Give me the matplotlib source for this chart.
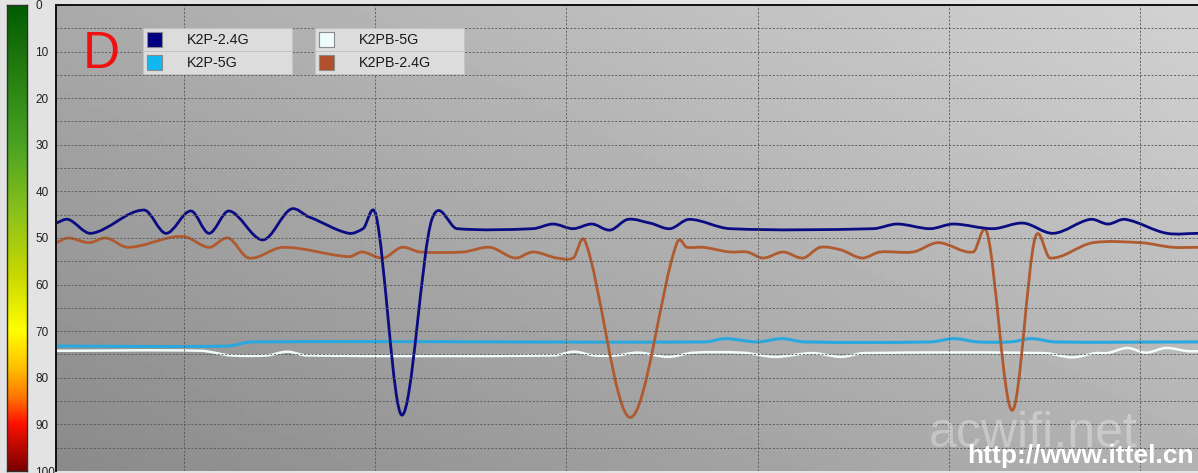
import numpy as np
import matplotlib
matplotlib.use("Agg")
import matplotlib.pyplot as plt
from matplotlib.path import Path
from matplotlib.patches import PathPatch, Rectangle
from matplotlib.colors import LinearSegmentedColormap

plt.rcParams['font.family'] = ['Liberation Sans', 'DejaVu Sans']

W, H = 1198, 473

# signal readings (0 = best, 100 = worst) against time in seconds
series_names = ["K2P-2.4G", "K2P-5G", "K2PB-5G", "K2PB-2.4G"]
series_colors = ["#0b0b82", "#2aa8de", "#f2fcfc", "#b05a30"]
legend_colors = ["#000080", "#10b8f0", "#eefcfc", "#b0502c"]

k2p_24_t = [19.9, 23.7, 30.9, 47.5, 54.4, 62.2, 67.9, 74.2, 84.8, 93.6, 99.3,
            111.8, 116.2, 120.3, 128.4, 137.8, 145.7, 169.5, 175.8, 182.1,
            188.0, 193.7, 199.3, 206.2, 212.5, 218.5, 231.3, 276.2, 283.7,
            294.1, 301.3, 313.8, 323.3, 332.7, 344.3, 349.9, 355.2, 368.4, 378.1]
k2p_24_v = [46.8, 46.0, 49.0, 44.0, 49.0, 44.2, 49.0, 44.2, 50.4, 43.8, 45.5,
            49.0, 48.0, 45.2, 88.0, 46.0, 48.0, 48.0, 47.0, 48.0,
            47.0, 48.3, 46.0, 46.8, 48.0, 46.0, 48.0, 48.0, 47.0,
            48.0, 47.0, 48.0, 46.8, 49.0, 46.0, 47.0, 46.0, 49.0, 49.0]

k2p_5_t = [19.9, 73.5, 81.4, 223.5, 229.8, 239.8, 247.6, 254.6, 294.1,
           301.6, 309.1, 319.2, 325.8, 333.3, 378.1]
k2p_5_v = [73.2, 73.2, 72.3, 72.3, 71.6, 72.3, 71.6, 72.3, 72.3,
           71.6, 72.3, 72.3, 71.6, 72.3, 72.3]

k2pb_5_t = [19.9, 65.4, 74.8, 86.1, 92.4, 98.6, 176.1, 182.4, 188.7, 195.6,
            202.5, 211.9, 220.0, 235.1, 245.5, 257.1, 266.2, 273.4, 329.9,
            338.6, 346.1, 349.6, 355.9, 361.8, 368.1, 375.0, 378.1]
k2pb_5_v = [74.2, 74.2, 75.2, 75.2, 74.4, 75.2, 75.2, 74.4, 75.2, 75.2,
            74.6, 75.5, 74.6, 74.6, 75.5, 74.7, 75.5, 74.7, 74.7,
            75.6, 74.7, 74.7, 73.6, 74.6, 73.6, 74.3, 74.3]

k2pb_24_t = [19.9, 23.7, 30.3, 35.6, 42.5, 56.6, 60.7, 67.9, 73.9, 80.4, 91.1,
             111.8, 115.9, 122.5, 128.4, 134.1, 147.6, 156.0, 163.9, 169.5,
             177.1, 182.1, 185.8, 200.0, 214.7, 217.8, 222.9, 231.3, 236.7,
             241.7, 248.0, 254.2, 259.6, 265.8, 272.7, 278.4, 288.7, 296.6,
             307.6, 312.0, 319.8, 327.0, 331.7, 345.2, 360.0, 370.3, 378.1]
k2pb_24_v = [51.0, 50.0, 51.0, 50.0, 52.0, 49.8, 49.8, 52.0, 50.0, 54.3, 52.0,
             54.0, 53.0, 54.3, 52.0, 53.0, 53.0, 52.0, 54.3, 53.0,
             54.3, 54.3, 50.6, 88.5, 51.0, 52.0, 52.0, 53.0, 53.0,
             54.3, 53.0, 54.3, 52.0, 52.5, 54.3, 53.0, 53.0, 51.0,
             53.0, 49.0, 87.0, 50.0, 54.3, 51.0, 51.0, 52.0, 52.0]

y_ticks = list(range(0, 101, 10))


def fx(px):
    return px / W


def fy(py):
    return 1 - py / H


def smooth_path(t, v, tension=0.85):
    # cubic Hermite curve through the readings, drawn as bezier segments
    t = np.asarray(t, float)
    v = np.asarray(v, float)
    m = np.zeros(len(t))
    m[1:-1] = (v[2:] - v[:-2]) / (t[2:] - t[:-2])
    m[0] = (v[1] - v[0]) / (t[1] - t[0])
    m[-1] = (v[-1] - v[-2]) / (t[-1] - t[-2])
    m *= tension
    verts = [(t[0], v[0])]
    codes = [Path.MOVETO]
    for i in range(len(t) - 1):
        h = t[i + 1] - t[i]
        verts += [(t[i] + h / 3, v[i] + m[i] * h / 3),
                  (t[i + 1] - h / 3, v[i + 1] - m[i + 1] * h / 3),
                  (t[i + 1], v[i + 1])]
        codes += [Path.CURVE4] * 3
    return Path(verts, codes)


fig = plt.figure(figsize=(W / 100, H / 100), dpi=100, facecolor="#e3e3e3")
rect = [fx(56), fy(471), 1 - fx(56), (471 - 5) / H]

# gradient background of the plot area
bg = fig.add_axes(rect)
xs = np.linspace(0, 1, 200)
ys = np.linspace(1, 0, 100)
grad = 138 + 40 * xs[None, :] + 32 * ys[:, None]
bg.imshow(grad, cmap="gray", vmin=0, vmax=255, aspect="auto", extent=[0, 1, 0, 1])
bg.set_axis_off()

ax = fig.add_axes(rect, facecolor="none")
ax.set_xlim(19.9, 378.1)
ax.set_ylim(100, 0)
ax.set_xticks(np.arange(60, 378, 60))
ax.set_yticks(np.arange(5, 100, 5))
ax.tick_params(length=0, labelleft=False, labelbottom=False)
ax.grid(True, color="#555555", linestyle=(0, (2.5, 2)), linewidth=0.6)
for s in ["right", "bottom"]:
    ax.spines[s].set_visible(False)
for s in ["top", "left"]:
    ax.spines[s].set_color("#101010")
    ax.spines[s].set_linewidth(1.4)

data = [(k2p_5_t, k2p_5_v), (k2pb_5_t, k2pb_5_v),
        (k2pb_24_t, k2pb_24_v), (k2p_24_t, k2p_24_v)]
colors = [series_colors[1], series_colors[2], series_colors[3], series_colors[0]]
widths = [2.2, 1.8, 2.0, 2.0]
for (t, v), c, lw in zip(data, colors, widths):
    ax.add_patch(PathPatch(smooth_path(t, v), facecolor="none", edgecolor=c,
                           linewidth=lw, capstyle="round", joinstyle="round"))

# colour scale on the left
cmap = LinearSegmentedColormap.from_list("sig", [
    (0.0, "#005c00"), (0.30, "#4aa322"), (0.45, "#8cc21a"), (0.58, "#c8d800"),
    (0.70, "#ffff00"), (0.78, "#ffc000"), (0.84, "#ff7a00"), (0.90, "#ff1000"),
    (1.0, "#7a0000")])
cax = fig.add_axes([fx(7), fy(471), fx(20), (471 - 5) / H])
cax.imshow(np.linspace(0, 1, 256)[:, None], cmap=cmap, aspect="auto",
           extent=[0, 1, 100, 0])
cax.set_ylim(100, 0)
cax.set_xticks([])
cax.yaxis.tick_right()
cax.set_yticks(y_ticks)
cax.tick_params(length=0, pad=6, labelsize=8.5, labelcolor="#202020")
for s in cax.spines.values():
    s.set_color("#303030")
    s.set_linewidth(1)

# legend boxes
legend_cells = [(143, 28, 0), (143, 51, 1), (315, 28, 2), (315, 51, 3)]
for px, py, k in legend_cells:
    fig.add_artist(Rectangle((fx(px), fy(py + 23)), fx(149), 23 / H,
                             transform=fig.transFigure, facecolor="#dcdcdc",
                             edgecolor="#c4c4c4", linewidth=0.6))
    fig.add_artist(Rectangle((fx(px + 4), fy(py + 19)), fx(15), 15 / H,
                             transform=fig.transFigure, facecolor=legend_colors[k],
                             edgecolor="#8a8a8a", linewidth=0.8))
    fig.text(fx(px + 44), fy(py + 11.5), series_names[k], fontsize=10.3,
             color="#1a1a1a", va="center", ha="left")

fig.text(fx(101), fy(55), "D", fontsize=37, color="#f01010",
         ha="center", va="center")

# watermarks
fig.text(fx(1033), fy(434), "acwifi.net", fontsize=36, color="white",
         alpha=0.32, ha="center", va="center")
fig.text(fx(1194), fy(456), "http://www.ittel.cn", fontsize=19,
         fontweight="bold", color="white", ha="right", va="center")

fig.savefig("out.png", dpi=100, facecolor=fig.get_facecolor())
